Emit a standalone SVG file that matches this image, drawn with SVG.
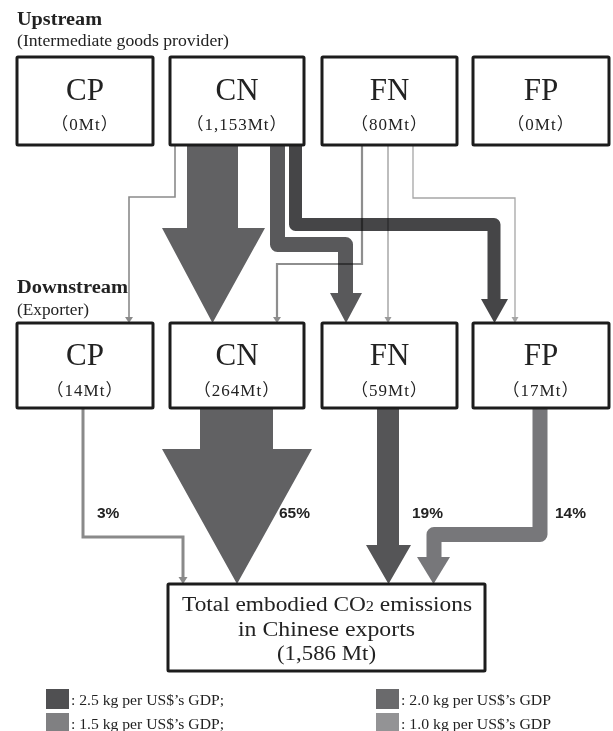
<svg xmlns="http://www.w3.org/2000/svg" width="613" height="731" viewBox="0 0 613 731">
<style>
.box{fill:#fff;stroke:#1c1c1c;stroke-width:3}
.big{font-family:"Liberation Serif",serif;font-size:31px;text-anchor:middle;fill:#222}
.val{font-family:"Liberation Serif","Noto Sans CJK JP",serif;font-size:17px;text-anchor:middle;letter-spacing:1px;fill:#222}
.hdr{font-family:"Liberation Serif",serif;font-weight:bold;font-size:18px;fill:#222}
.sub{font-family:"Liberation Serif",serif;font-size:16px;fill:#222}
.pct{font-family:"Liberation Sans",Arial,sans-serif;font-weight:bold;font-size:15.5px;fill:#222}
.tot{font-family:"Liberation Serif",serif;font-size:20px;text-anchor:middle;fill:#222}
.leg{font-family:"Liberation Serif",serif;font-size:15px;fill:#222}
.thin{fill:none;stroke-linejoin:miter}
</style>
<g id="labels">
<text class="hdr" x="17" y="25" textLength="85" lengthAdjust="spacingAndGlyphs">Upstream</text>
<text class="sub" x="17" y="46" textLength="212" lengthAdjust="spacingAndGlyphs">(Intermediate goods provider)</text>
<text class="hdr" x="17" y="293" textLength="111" lengthAdjust="spacingAndGlyphs">Downstream</text>
<text class="sub" x="17" y="315" textLength="72" lengthAdjust="spacingAndGlyphs">(Exporter)</text>
</g>
<g id="connectors">
<!-- CN -> CN big arrow -->
<polygon fill="#616163" points="187,145 238,145 238,228 265,228 212.5,323 162,228 187,228"/>
<!-- CN -> FP -->
<path d="M295.5,145 V224.5 H494 V300" fill="none" stroke="#454547" stroke-width="13" stroke-linejoin="round"/>
<polygon fill="#454547" points="481,299 508,299 494.5,323"/>
<!-- CN -> FN -->
<path d="M277.5,145 V244.5 H345.5 V294" fill="none" stroke="#59595b" stroke-width="15" stroke-linejoin="round"/>
<polygon fill="#59595b" points="330,293 362,293 346,323"/>
<g style="mix-blend-mode:multiply">
<!-- CN -> CP thin -->
<path class="thin" d="M175,145 V197 H129 V318" stroke="#8a8a8a" stroke-width="1.6"/>
<polygon fill="#8a8a8a" points="125,317 133,317 129,323"/>
<!-- FN -> CN -->
<path class="thin" d="M362,145 V264 H277 V318" stroke="#8e8e8e" stroke-width="2.2"/>
<polygon fill="#8e8e8e" points="273,317 281,317 277,323"/>
<!-- FN -> FN -->
<path class="thin" d="M388,145 V318" stroke="#9a9a9a" stroke-width="1.3"/>
<polygon fill="#9a9a9a" points="384.5,317 391.5,317 388,323"/>
<!-- FN -> FP -->
<path class="thin" d="M413,145 V198 H515 V318" stroke="#a6a6a6" stroke-width="1.3"/>
<polygon fill="#a6a6a6" points="511.5,317 518.5,317 515,323"/>
</g>
<!-- CP -> total (3%) -->
<path class="thin" d="M83,408 V537 H183 V578" stroke="#8a8a8a" stroke-width="3"/>
<polygon fill="#8a8a8a" points="178.5,577 187.5,577 183,584"/>
<!-- CN -> total (65%) -->
<polygon fill="#616163" points="200,408 273,408 273,449 312,449 237,584 162,449 200,449"/>
<!-- FN -> total (19%) -->
<polygon fill="#555557" points="377,408 399,408 399,545 411,545 388.5,584 366,545 377,545"/>
<!-- FP -> total (14%) -->
<path d="M540,408 V534.5 H434 V558" fill="none" stroke="#77777a" stroke-width="15" stroke-linejoin="round"/>
<polygon fill="#77777a" points="417,557 450,557 433.5,584"/>
<text class="pct" x="97" y="518">3%</text>
<text class="pct" x="279" y="518">65%</text>
<text class="pct" x="412" y="518">19%</text>
<text class="pct" x="555" y="518">14%</text>
</g>
<g id="up-CP"><rect class="box" x="17" y="57" width="136" height="88" rx="1"/><text class="big" x="85" y="100">CP</text><text class="val" x="85" y="130">（0Mt）</text></g>
<g id="up-CN"><rect class="box" x="170" y="57" width="134" height="88" rx="1"/><text class="big" x="237" y="100">CN</text><text class="val" x="237" y="130">（1,153Mt）</text></g>
<g id="up-FN"><rect class="box" x="322" y="57" width="135" height="88" rx="1"/><text class="big" x="389.5" y="100">FN</text><text class="val" x="389.5" y="130">（80Mt）</text></g>
<g id="up-FP"><rect class="box" x="473" y="57" width="136" height="88" rx="1"/><text class="big" x="541" y="100">FP</text><text class="val" x="541" y="130">（0Mt）</text></g>
<g id="down-CP"><rect class="box" x="17" y="323" width="136" height="85" rx="1"/><text class="big" x="85" y="365">CP</text><text class="val" x="85" y="396">（14Mt）</text></g>
<g id="down-CN"><rect class="box" x="170" y="323" width="134" height="85" rx="1"/><text class="big" x="237" y="365">CN</text><text class="val" x="237" y="396">（264Mt）</text></g>
<g id="down-FN"><rect class="box" x="322" y="323" width="135" height="85" rx="1"/><text class="big" x="389.5" y="365">FN</text><text class="val" x="389.5" y="396">（59Mt）</text></g>
<g id="down-FP"><rect class="box" x="473" y="323" width="136" height="85" rx="1"/><text class="big" x="541" y="365">FP</text><text class="val" x="541" y="396">（17Mt）</text></g>
<g id="total">
<rect class="box" x="168" y="584" width="317" height="87" rx="1"/>
<text class="tot" x="327" y="611" textLength="290" lengthAdjust="spacingAndGlyphs">Total embodied CO<tspan font-size="14">2</tspan> emissions</text>
<text class="tot" x="326.5" y="636" textLength="177" lengthAdjust="spacingAndGlyphs">in Chinese exports</text>
<text class="tot" x="326.5" y="660" textLength="99" lengthAdjust="spacingAndGlyphs">(1,586 Mt)</text>
</g>
<g id="legend">
<rect x="46" y="689" width="23" height="20" fill="#505052"/>
<text class="leg" x="71" y="705" textLength="153" lengthAdjust="spacingAndGlyphs">: 2.5 kg per US$’s GDP;</text>
<rect x="376" y="689" width="23" height="20" fill="#6a6a6c"/>
<text class="leg" x="401" y="705" textLength="150" lengthAdjust="spacingAndGlyphs">: 2.0 kg per US$’s GDP</text>
<rect x="46" y="713" width="23" height="20" fill="#808082"/>
<text class="leg" x="71" y="729" textLength="153" lengthAdjust="spacingAndGlyphs">: 1.5 kg per US$’s GDP;</text>
<rect x="376" y="713" width="23" height="20" fill="#939395"/>
<text class="leg" x="401" y="729" textLength="150" lengthAdjust="spacingAndGlyphs">: 1.0 kg per US$’s GDP</text>
</g>
</svg>
